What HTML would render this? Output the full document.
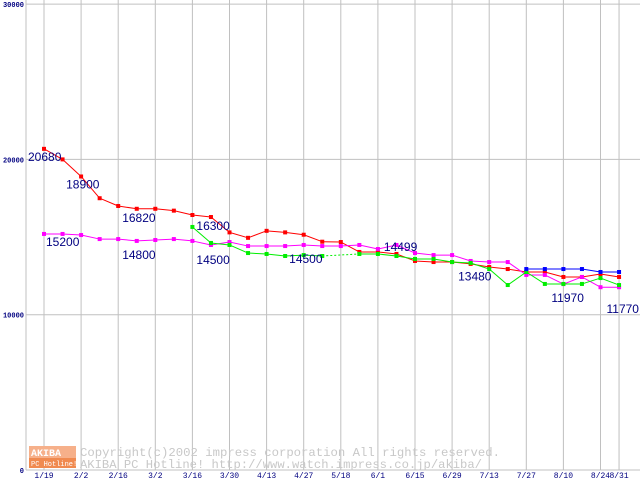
<!DOCTYPE html>
<html><head><meta charset="utf-8"><style>
body{margin:0;background:#fff}
svg{display:block;font-family:"Liberation Mono",monospace}
</style></head><body>
<svg id="c" width="640" height="480">
<rect width="640" height="480" fill="#fff"/>
<g id="grid"></g>
<g id="wm">
<rect x="29" y="446" width="47" height="12" fill="#f6b08a"/>
<text x="31" y="456" font-size="10" fill="#fff" font-weight="bold">AKIBA</text>
<rect x="29" y="458" width="47" height="10" fill="#f08a50"/>
<text x="31" y="466" font-size="7" fill="#fff">PC Hotline!</text>
<text x="80" y="456" font-size="12" fill="#c8c8c8" textLength="420" lengthAdjust="spacingAndGlyphs">Copyright(c)2002 impress corporation All rights reserved.</text>
<text x="80" y="468" font-size="12" fill="#c8c8c8" textLength="402" lengthAdjust="spacingAndGlyphs">AKIBA PC Hotline!  http://www.watch.impress.co.jp/akiba/</text>
</g>
<g id="series"></g>
<g id="labels"></g>
</svg>
<script>
const xTickLabels=["1/19","2/2","2/16","3/2","3/16","3/30","4/13","4/27","5/18","6/1","6/15","6/29","7/13","7/27","8/10","8/24","8/31"];
const xTickIdx=[0,2,4,6,8,10,12,14,16,18,20,22,24,26,28,30,31];
const yTicks=[0,10000,20000,30000];
const red=[20680,20000,18900,17500,17000,16820,16820,16700,16420,16290,15300,14950,15400,15300,15150,14700,14680,14040,14040,13910,13460,13390,13390,13270,13070,12940,12750,12750,12430,12430,12620,12430];
const magenta=[15200,15200,15130,14870,14870,14750,14810,14870,14750,14490,14680,14420,14420,14420,14490,14420,14420,14490,14230,14490,13970,13840,13840,13460,13390,13390,12560,12560,11970,12430,11770,11770];
const green=[null,null,null,null,null,null,null,null,15650,14620,14490,13970,13910,13780,13840,13780,null,13910,13910,13780,13590,13590,13390,13330,12940,11910,12750,11980,11980,11980,12360,11910];
const blue=[null,null,null,null,null,null,null,null,null,null,null,null,null,null,null,null,null,null,null,null,null,null,null,null,null,null,12940,12940,12940,12940,12750,12750];
const labelVals=[20680,18900,16820,16300,15200,14800,14500,14500,14499,13480,11970,11770];
const labelIdx=[0,2,4,8,0,4,8,13,18,22,28,30];
const NS="http://www.w3.org/2000/svg";
const X=i=>44+i*18.55;
const Y=v=>470-v*0.01553;
function mk(t,a,p){const e=document.createElementNS(NS,t);for(const k in a)e.setAttribute(k,a[k]);p.appendChild(e);return e;}
const g=document.getElementById('grid');
yTicks.forEach(v=>{
 const l=mk('line',{x1:26,x2:640,y1:Y(v),y2:Y(v),stroke:'#c0c0c0'},g);
 
 
 const t=mk('text',{x:24,y:Y(v)+3,'font-size':7,fill:'#000080','text-anchor':'end','font-weight':'bold'},g);
 t.textContent=v;
 
 
});
mk('line',{x1:26,x2:26,y1:0,y2:470,stroke:'#c0c0c0'},g);
xTickIdx.forEach((ix,k)=>{
 const l=mk('line',{x1:X(ix),x2:X(ix),y1:0,y2:470,stroke:'#c0c0c0'},g);
 
 
 const t=mk('text',{x:X(ix),y:478,'font-size':8,fill:'#000080','text-anchor':'middle'},g);
 t.textContent=xTickLabels[k];
 
 
});
const s=document.getElementById('series');
function draw(arr,col,name){
 const grp=mk('g',{},s);
 
 
 let prev=-1;
 arr.forEach((v,i)=>{
  if(v==null)return;
  if(prev>=0){mk('line',{x1:X(prev),y1:Y(arr[prev]),x2:X(i),y2:Y(v),stroke:col,'stroke-width':1,'stroke-dasharray':(i-prev>1?'2,2':'none')},grp);}
  prev=i;
 });
 arr.forEach((v,i)=>{
  if(v==null)return;
  const r=mk('rect',{x:X(i)-2,y:Y(v)-2,width:4,height:4,fill:col},grp);
  
  
 });
}
draw(red,'#ff0000','series-red');
draw(magenta,'#ff00ff','series-magenta');
draw(green,'#00ee00','series-green');
draw(blue,'#0000ff','series-blue');
const lg=document.getElementById('labels');
const lOff=[[-16,12],[-15,12],[4,13],[4,13],[2,12],[4,19],[4,19],[4,18],[6,6],[6,20],[-12,18],[6,26]];
labelVals.forEach((v,k)=>{
 const t=mk('text',{x:X(labelIdx[k])+lOff[k][0],y:Y(v)+lOff[k][1],'font-size':12,fill:'#000080',"font-family":"Liberation Sans, sans-serif"},lg);
 t.textContent=v;
 
 
});
</script>
</body></html>
